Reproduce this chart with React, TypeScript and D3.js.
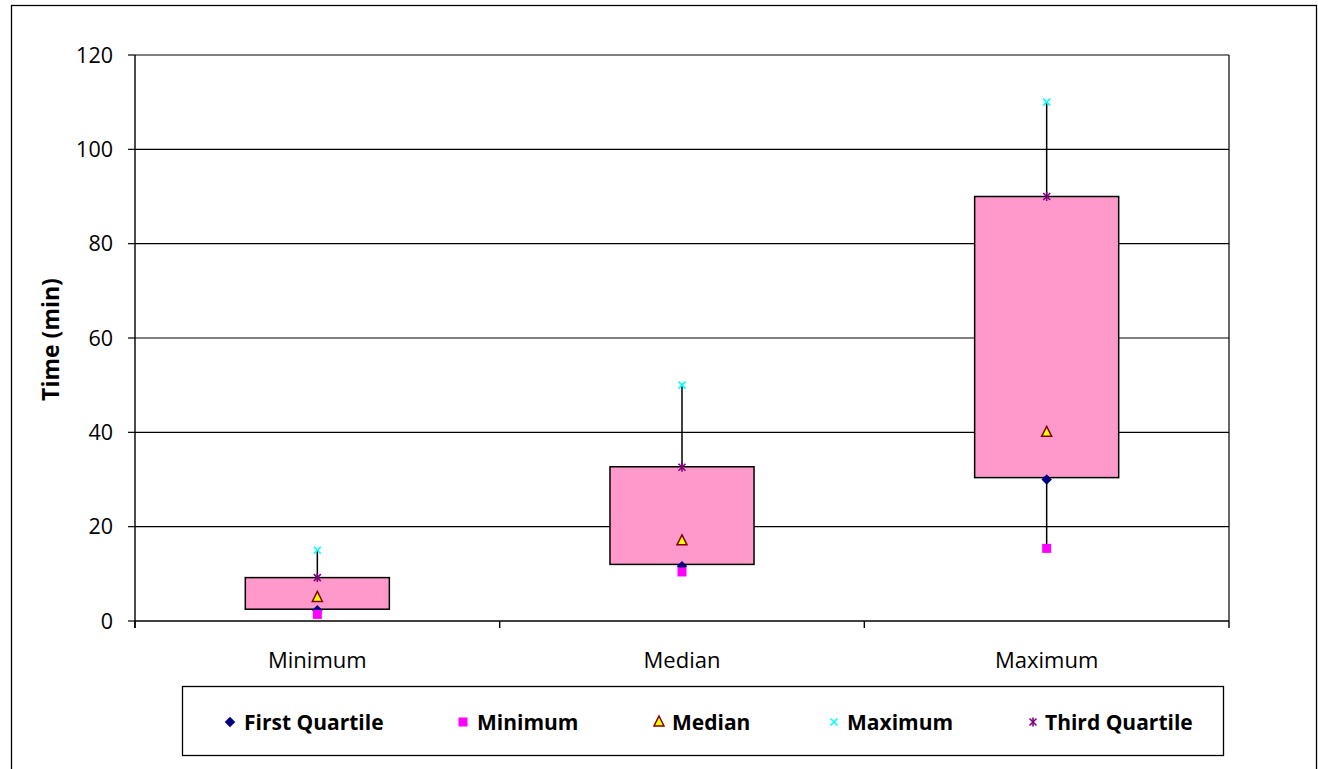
import React from "react";
import * as d3 from "d3";

const categories = ["Minimum", "Median", "Maximum"];
const firstQuartile = [2.3, 11.6, 30];
const minimum = [1.4, 10.4, 15.4];
const median = [5, 17, 40];
const maximum = [15, 50, 110];
const thirdQuartile = [9.2, 32.6, 90];
const boxLow = [2.5, 12, 30.4];
const boxHigh = [9.2, 32.7, 90];
const yTicks = [0, 20, 40, 60, 80, 100, 120];
const legendItems = ["First Quartile", "Minimum", "Median", "Maximum", "Third Quartile"];

const FONT = "'Open Sans', 'Liberation Sans', sans-serif";

function Marker({ kind, x, y }: { kind: string; x: number; y: number }) {
  if (kind === "First Quartile") {
    const p = d3.symbol().type(d3.symbolDiamond2).size(70)();
    return <path d={p!} transform={`translate(${x},${y})`} fill="#000080" />;
  }
  if (kind === "Minimum") {
    return <rect x={x - 4.5} y={y - 4.5} width={9} height={9} fill="#FF00FF" />;
  }
  if (kind === "Median") {
    return (
      <path
        d={`M${x},${y - 6}L${x + 5},${y + 4}L${x - 5},${y + 4}Z`}
        fill="#FFFF00"
        stroke="#800000"
        strokeWidth={1.5}
      />
    );
  }
  if (kind === "Maximum") {
    return (
      <g stroke="#00FFFF" strokeWidth={1.6}>
        <line x1={x - 3.5} y1={y - 3.5} x2={x + 3.5} y2={y + 3.5} />
        <line x1={x - 3.5} y1={y + 3.5} x2={x + 3.5} y2={y - 3.5} />
      </g>
    );
  }
  return (
    <g stroke="#800080" strokeWidth={1.6}>
      <line x1={x - 3.5} y1={y - 3.5} x2={x + 3.5} y2={y + 3.5} />
      <line x1={x - 3.5} y1={y + 3.5} x2={x + 3.5} y2={y - 3.5} />
      <line x1={x} y1={y - 4.5} x2={x} y2={y + 4.5} />
    </g>
  );
}

export default function App() {
  const W = 1318;
  const H = 769;
  const left = 135;
  const right = 1229;
  const top = 55;
  const bottom = 621;

  const x = d3.scaleBand<string>().domain(categories).range([left, right]).paddingInner(0).paddingOuter(0);
  const y = d3.scaleLinear().domain([0, 120]).range([bottom, top]);
  const bw = x.bandwidth();
  const boxW = bw * 0.395;

  const series: { name: string; vals: number[] }[] = [
    { name: "First Quartile", vals: firstQuartile },
    { name: "Minimum", vals: minimum },
    { name: "Median", vals: median },
    { name: "Maximum", vals: maximum },
    { name: "Third Quartile", vals: thirdQuartile },
  ];

  const legendMarkerX = [230, 463, 659, 834, 1033];
  const legendTextX = [244, 477, 672, 847, 1045];

  return (
    <svg width={W} height={H} style={{ position: "absolute", left: 0, top: 0, background: "#fff" }}>
      <rect x={11.5} y={5.5} width={1305} height={780} fill="#fff" stroke="#000" strokeWidth={1.3} />
      {/* grid */}
      {yTicks.map((t) => (
        <g key={t}>
          {t > 0 && <line x1={left} x2={right} y1={y(t)} y2={y(t)} stroke="#000" strokeWidth={1.2} />}
          <line x1={left - 7} x2={left} y1={y(t)} y2={y(t)} stroke="#000" strokeWidth={1.2} />
          <text x={113} y={y(t)} dy="0.36em" textAnchor="end" fontFamily={FONT} fontSize={21.5} fill="#000">
            {t}
          </text>
        </g>
      ))}
      <line x1={right} x2={right} y1={top} y2={bottom} stroke="#000" strokeWidth={1.2} />
      {/* whiskers */}
      {categories.map((c, i) => {
        const cx = x(c)! + bw / 2;
        return (
          <line key={c} x1={cx} x2={cx} y1={y(minimum[i])} y2={y(maximum[i])} stroke="#000" strokeWidth={1.5} />
        );
      })}
      {/* boxes */}
      {categories.map((c, i) => {
        const cx = x(c)! + bw / 2;
        return (
          <rect
            key={c}
            x={cx - boxW / 2}
            y={y(boxHigh[i])}
            width={boxW}
            height={y(boxLow[i]) - y(boxHigh[i])}
            fill="#FF99CC"
            stroke="#000"
            strokeWidth={1.5}
          />
        );
      })}
      {/* axes */}
      <line x1={left} x2={left} y1={top} y2={bottom + 7} stroke="#000" strokeWidth={1.4} />
      <line x1={left} x2={right} y1={bottom} y2={bottom} stroke="#000" strokeWidth={1.4} />
      {[...categories.map((c) => x(c)!), right].map((v, i) => (
        <line key={i} x1={v} x2={v} y1={bottom} y2={bottom + 7} stroke="#000" strokeWidth={1.4} />
      ))}
      {categories.map((c) => (
        <text key={c} x={x(c)! + bw / 2} y={660} dy="0.36em" textAnchor="middle" fontFamily={FONT} fontSize={22} fill="#000">
          {c}
        </text>
      ))}
      {/* markers */}
      {series.map((s) =>
        categories.map((c, i) => (
          <Marker key={s.name + c} kind={s.name} x={x(c)! + bw / 2} y={y(s.vals[i])} />
        ))
      )}
      {/* y title */}
      <text
        transform={`translate(51,${(277 + 402) / 2}) rotate(-90)`}
        dy="0.36em"
        textAnchor="middle"
        fontFamily={FONT}
        fontWeight="bold"
        fontSize={23}
        fill="#000"
      >
        Time (min)
      </text>
      {/* legend */}
      <rect x={182.5} y={686.5} width={1041} height={69} fill="#fff" stroke="#000" strokeWidth={1.3} />
      {legendItems.map((name, i) => (
        <g key={name}>
          <Marker kind={name} x={legendMarkerX[i]} y={722} />
          <text x={legendTextX[i]} y={722} dy="0.36em" fontFamily={FONT} fontWeight="bold" fontSize={21} fill="#000">
            {name}
          </text>
        </g>
      ))}
    </svg>
  );
}
